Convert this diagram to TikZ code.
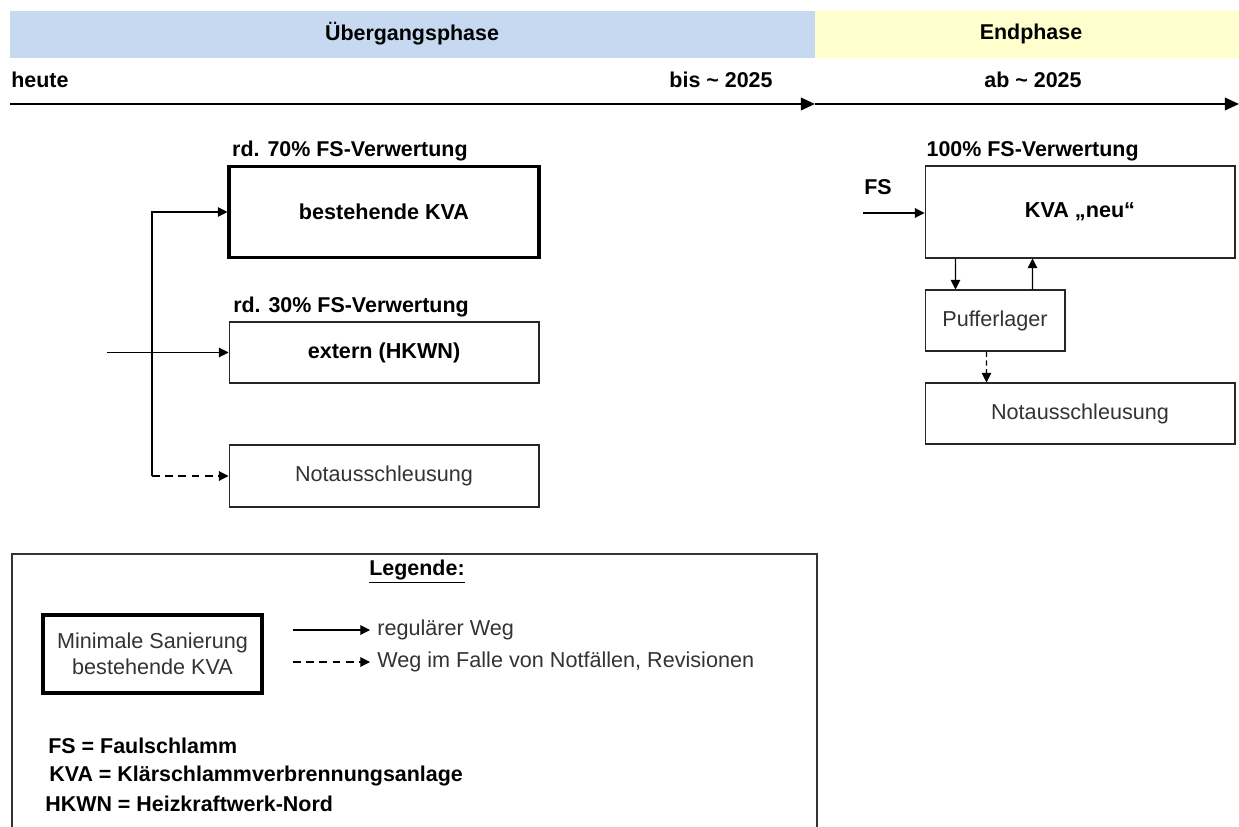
\documentclass[tikz,border=0pt]{standalone}
\usepackage{fontspec}
\setmainfont{Liberation Sans}
\usetikzlibrary{arrows.meta, positioning}
\definecolor{phaseblue}{RGB}{198,217,240}
\definecolor{phaseyellow}{RGB}{255,255,206}

\begin{document}
\begin{tikzpicture}[
    x=0.02cm, y=-0.02cm,
    every node/.style={font=\fontsize{12.3}{14.8}\selectfont},
    tagtext/.style={font=\fontsize{12.2}{14.8}\selectfont\bfseries, inner sep=0pt},
    plant/.style={rectangle, draw=black!85, line width=0.6pt, minimum width=6.2cm, align=center},
    thickplant/.style={plant, draw=black, line width=1.8pt},
    arrow/.style={-{Triangle[length=5.5pt, width=5.5pt]}, line width=0.6pt},
    timeline/.style={-{Triangle[length=8pt, width=7pt]}, line width=1.4pt}
]
\useasboundingbox (0,0) rectangle (1239,827);

% Phases
\fill[phaseblue] (10,11) rectangle (815,58);
\fill[phaseyellow] (815,11) rectangle (1239,58);
\node[tagtext] (uebergang) at (412,34) {Übergangsphase};
\node[tagtext] (endphase) at (1031,34) {Endphase};
\node[tagtext, anchor=west] (heute) at (11,80) {heute};
\node[tagtext] (bis) at (721,80) {bis \textasciitilde{} 2025};
\node[tagtext] (ab) at (1033,80) {ab \textasciitilde{} 2025};

\coordinate (t0) at (10,104);
\coordinate (t1) at (815,104);
\coordinate (t2) at (1239,104);
\draw[timeline] (t0) -- (t1);
\draw[timeline] (t1) -- (t2);

% Nodes
\node[thickplant, minimum height=1.82cm] (kva) at (384,212) {\bfseries bestehende KVA};
\node[plant, minimum height=1.22cm] (extern) at (384,352.5) {\bfseries extern (HKWN)};
\node[plant, minimum height=1.24cm, text=black!80] (notleft) at (384,476) {Notausschleusung};
\node[tagtext, anchor=base west] (share70) at ([xshift=2.5pt, yshift=5pt]kva.north west) {rd. 70\% FS-Verwertung};
\node[tagtext, anchor=base west] (share30) at ([xshift=2.5pt, yshift=5pt]extern.north west) {rd. 30\% FS-Verwertung};

\node[plant, minimum height=1.84cm] (kvaneu) at (1080,212) {\bfseries KVA „neu“};
\node[tagtext, anchor=base west] (share100) at ([xshift=1pt, yshift=5pt]kvaneu.north west) {100\% FS-Verwertung};
\node[plant, minimum width=2.8cm, minimum height=1.22cm, text=black!80] (puffer) at (995,320.5) {Pufferlager};
\node[plant, minimum height=1.22cm, text=black!80] (notright) at (1080,413.5) {Notausschleusung};
\node[tagtext] (fs) at (878,187) {FS};

% Paths
\coordinate (in) at (107,352.5);
\coordinate (split) at (152,352.5);
\coordinate (corner) at (152,476);
\draw[arrow] (in) -- (extern);
\draw[arrow] (split) |- (kva);
\draw[line width=0.6pt] (split) -- (corner);
\draw[arrow, dash pattern=on 4.5pt off 3pt] (corner) -- (notleft);

\coordinate (fsin) at (863,213);
\draw[arrow] (fsin) -- (fsin -| kvaneu.west);
\draw[arrow] ([xshift=0.62cm]kvaneu.south west) -- ([xshift=0.62cm]puffer.north west);
\draw[arrow] ([xshift=2.16cm]puffer.north west) -- ([xshift=2.16cm]kvaneu.south west);
\draw[arrow, dash pattern=on 3pt off 2pt] ([xshift=1.24cm]puffer.south west) -- ([xshift=1.24cm]notright.north west);

% Legend
\draw[line width=0.8pt, black!80] (12,840) -- (12,554) -- (817,554) -- (817,840);
\node[tagtext] (legende) at (417,572) {\underline{Legende:}};
\node[thickplant, minimum width=4.38cm, minimum height=1.56cm, text=black!80] (legbox) at (152.5,654) {Minimale Sanierung\\bestehende KVA};
\node[anchor=west, inner xsep=4pt, inner ysep=0pt, text=black!80] (legreg) at (370,630) {regulärer Weg};
\node[anchor=west, inner xsep=4pt, inner ysep=0pt, text=black!80] (legnot) at (370,662) {Weg im Falle von Notfällen, Revisionen};
\coordinate (lr0) at (293,630);
\coordinate (ln0) at (293,662);
\draw[arrow] (lr0) -- (legreg);
\draw[arrow, dash pattern=on 4.5pt off 3pt] (ln0) -- (legnot);

\node[tagtext, anchor=west] (deffs) at (48,746) {FS = Faulschlamm};
\node[tagtext, anchor=west] (defkva) at (49,776) {KVA = Klärschlammverbrennungsanlage};
\node[tagtext, anchor=west] (defhkwn) at (45,804) {HKWN = Heizkraftwerk-Nord};

\end{tikzpicture}
\end{document}
